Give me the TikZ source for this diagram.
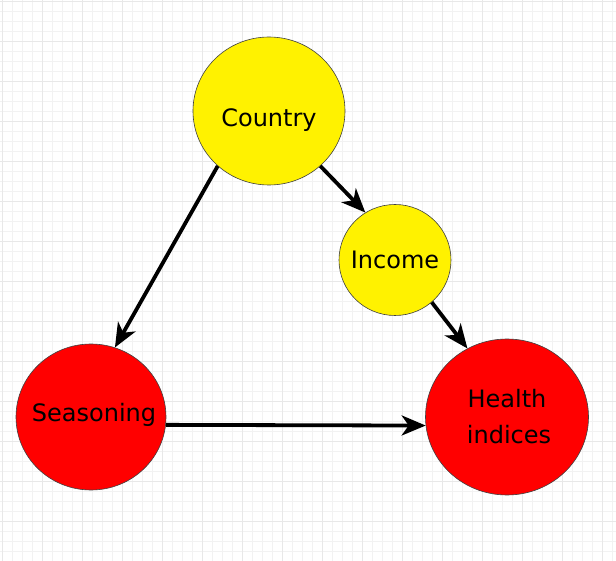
\documentclass[tikz,border=0pt]{standalone}
\usepackage{fontspec}
\setmainfont{DejaVu Sans}
\usetikzlibrary{shapes.geometric, arrows.meta}
\tikzset{varnode/.style={ellipse, draw=black!75, line width=0.6pt, inner sep=0pt, align=center,
		font=\fontsize{24}{36}\selectfont},
	yellownode/.style={varnode, fill=yellow},
	rednode/.style={varnode, fill=red},
	causal/.style={line width=3.8pt, -{Stealth[length=24pt, width=20pt, inset=7pt]}},
	gridminor/.style={gray!10, line width=0.6pt},
	gridmajor/.style={gray!18, line width=0.6pt}}
\newcommand{\vlab}[1]{\makebox[0pt]{#1}}

\begin{document}
\begin{tikzpicture}
    [x=1pt, y=-1pt]
    \fill[white] (0,0) rectangle (616,561);
    \useasboundingbox (0,0) rectangle (616,561);
    % background grid
    \foreach \gx in {2,12,...,612} \draw[gridminor] (\gx,0) -- (\gx,561);
    \foreach \gy in {1,11,...,561} \draw[gridminor] (0,\gy) -- (616,\gy);
    \foreach \gx in {2,42,...,612} \draw[gridmajor] (\gx,0) -- (\gx,561);
    \foreach \gy in {1,41,...,561} \draw[gridmajor] (0,\gy) -- (616,\gy);
    % variables
    \node[yellownode, minimum width=152pt, minimum height=148pt, text height=35pt] (country) at (269,111){\vlab{Country}};
    \node[yellownode, minimum width=112pt, minimum height=111pt] (income) at (395,260){\vlab{Income}};
    \node[rednode, minimum width=150pt, minimum height=146pt, text depth=9pt] (seasoning) at (91,417){\vlab{\hspace{6pt}Seasoning}};
    \node[rednode, minimum width=163pt, minimum height=156pt] (health) at (507,417){\vlab{Health}\\ \vlab{\,indices}};
    % arrows
    \draw[causal] (country.227) to (seasoning.71);
    \draw[causal] (country.313) to (income.122);
    \draw[causal] (income.311) to (health.120);
    \draw[causal] (seasoning.354) to (health.186);
    \end{tikzpicture}
\end{document}
